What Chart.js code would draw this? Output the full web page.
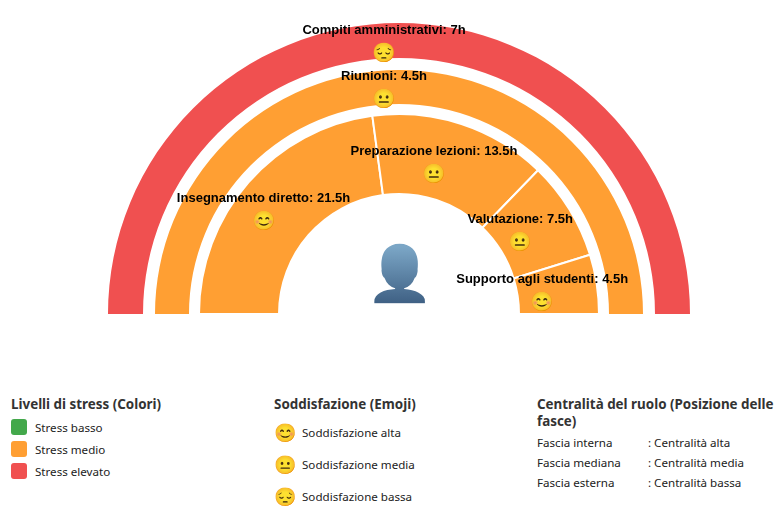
<!DOCTYPE html>
<html lang="it">
<head>
<meta charset="utf-8">
<title>Fasce orarie</title>
<script src="https://cdn.jsdelivr.net/npm/chart.js@4"></script>
<style>
  body { margin: 0; background: #fff; width: 778px; height: 520px; overflow: hidden; position: relative; font-family: "Noto Sans", sans-serif; color: #222; }
  #chart { position: absolute; left: 108px; top: 23px; }
  .col { position: absolute; top: 395.5px; font-size: 11.6px; }
  .col h4 { margin: 0 0 3.5px; font-size: 13.4px; line-height: 17px; font-weight: 700; color: #333; }
  .row { display: flex; align-items: center; height: 22px; }
  .sw { width: 16px; height: 16px; border-radius: 3px; margin-right: 8px; }
  .em { font-size: 18px; width: 28px; }
</style>
</head>
<body>
<canvas id="chart" width="582" height="291"></canvas>
<div class="col" style="left:11px;width:230px"><h4>Livelli di stress (Colori)</h4><div id="stress"></div></div>
<div class="col" style="left:274px;width:230px"><h4>Soddisfazione (Emoji)</h4><div id="sodd" style="margin-top:1px"></div></div>
<div class="col" style="left:537px;width:240px"><h4>Centralità del ruolo (Posizione delle fasce)</h4><div id="centr" style="margin-top:-1px"></div></div>
<script>
// Fasce, dall'interno verso l'esterno
const innerLabels = ["Insegnamento diretto", "Preparazione lezioni", "Valutazione", "Supporto agli studenti"];
const innerHours = [21.5, 13.5, 7.5, 4.5];
const innerMood = ["😊", "😐", "😐", "😊"];
const middleLabels = ["Riunioni"];
const middleHours = [4.5];
const middleMood = ["😐"];
const outerLabels = ["Compiti amministrativi"];
const outerHours = [7];
const outerMood = ["😔"];

const orange = "#ff9f33";
const red = "#f05050";
const green = "#43a84b";

const stressLegend = [["Stress basso", green], ["Stress medio", orange], ["Stress elevato", red]];
const moodLegend = [["😊", "Soddisfazione alta"], ["😐", "Soddisfazione media"], ["😔", "Soddisfazione bassa"]];
const roleLegend = [["Fascia interna", "Centralità alta"], ["Fascia mediana", "Centralità media"], ["Fascia esterna", "Centralità bassa"]];

// the person glyph, tinted from steel blue to dark blue
function drawPerson(ctx, x, y) {
  const off = document.createElement("canvas");
  off.width = 80;
  off.height = 80;
  const o = off.getContext("2d");
  o.textAlign = "center";
  o.textBaseline = "middle";
  o.font = "54px sans-serif";
  o.fillText("👤", 40, 40);
  o.globalCompositeOperation = "source-in";
  const g = o.createLinearGradient(0, 10, 0, 70);
  g.addColorStop(0, "#7ba6c6");
  g.addColorStop(1, "#3b5c80");
  o.fillStyle = g;
  o.fillRect(0, 0, 80, 80);
  ctx.drawImage(off, x - 40, y - 40);
}

const bandLabels = {
  id: "bandLabels",
  afterDraw(chart) {
    const ctx = chart.ctx;
    chart.data.datasets.forEach((ds, i) => {
      if (!ds.names) return;
      chart.getDatasetMeta(i).data.forEach((arc, j) => {
        const p = arc.getCenterPoint();
        ctx.save();
        ctx.textAlign = "center";
        ctx.textBaseline = "middle";
        ctx.fillStyle = "#000";
        ctx.font = "bold 13px 'Liberation Sans'";
        ctx.fillText(`${ds.names[j]}: ${ds.data[j]}h`, p.x - 15, p.y - 10.5);
        ctx.font = "19px sans-serif";
        ctx.fillText(ds.moods[j], p.x - 15, p.y + 13);
        ctx.restore();
      });
    });
    const arc = chart.getDatasetMeta(0).data[0];
    drawPerson(ctx, arc.x, arc.y - 37);
  }
};

new Chart(document.getElementById("chart"), {
  type: "doughnut",
  data: {
    datasets: [
      { data: outerHours, names: outerLabels, moods: outerMood, backgroundColor: [red], borderWidth: 0, weight: 35 },
      { data: [1], backgroundColor: ["transparent"], borderWidth: 0, weight: 12 },
      { data: middleHours, names: middleLabels, moods: middleMood, backgroundColor: [orange], borderWidth: 0, weight: 34 },
      { data: [1], backgroundColor: ["transparent"], borderWidth: 0, weight: 10 },
      { data: innerHours, names: innerLabels, moods: innerMood, backgroundColor: innerHours.map(() => orange), borderColor: "#fff", borderWidth: 2, weight: 80 }
    ]
  },
  options: {
    responsive: false,
    animation: false,
    rotation: -90,
    circumference: 180,
    cutout: "41.24%",
    plugins: { legend: { display: false }, tooltip: { enabled: false } }
  },
  plugins: [bandLabels]
});

document.getElementById("stress").innerHTML = stressLegend.map(s => `<div class="row"><span class="sw" style="background:${s[1]}"></span>${s[0]}</div>`).join("");
document.getElementById("sodd").innerHTML = moodLegend.map(m => `<div class="row" style="height:32px"><span class="em">${m[0]}</span>${m[1]}</div>`).join("");
document.getElementById("centr").innerHTML = roleLegend.map(r => `<div class="row" style="height:20px"><span style="width:111px">${r[0]}</span>: ${r[1]}</div>`).join("");
</script>
</body>
</html>
